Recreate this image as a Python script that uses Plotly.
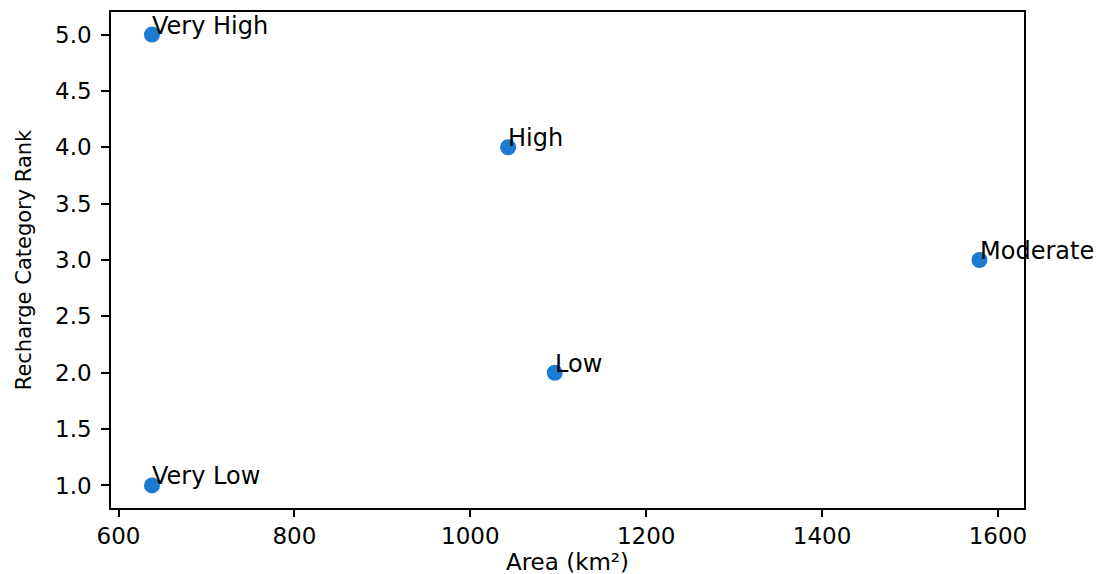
import plotly.graph_objects as go

categories = ["Very Low", "Low", "Moderate", "High", "Very High"]
area_km2 = [638, 1096, 1579, 1043, 638]
rank = [1, 2, 3, 4, 5]

x_ticks = [600, 800, 1000, 1200, 1400, 1600]
y_ticks = [1.0, 1.5, 2.0, 2.5, 3.0, 3.5, 4.0, 4.5, 5.0]

FONT = "DejaVu Sans"
FS = 23

fig = go.Figure()
fig.add_trace(go.Scatter(
    x=area_km2, y=rank, mode="markers",
    marker=dict(color="#1a7bd0", size=16, line=dict(width=0)),
    showlegend=False, hoverinfo="skip",
))

for c, xv, yv in zip(categories, area_km2, rank):
    fig.add_annotation(
        x=xv, y=yv, text=c, showarrow=False,
        xanchor="left", yanchor="bottom", yshift=-7, xshift=-2,
        font=dict(family=FONT, size=24, color="black"),
    )

axis_common = dict(
    showline=True, linecolor="black", linewidth=1.5, mirror=True,
    ticks="outside", tickcolor="black", tickwidth=1.5,
    showgrid=False, zeroline=False, automargin=False,
    tickfont=dict(family=FONT, size=FS, color="black"),
)

fig.update_xaxes(
    range=[591.4, 1629.6], tickvals=x_ticks, ticklen=7,
    title=dict(text="Area (km²)", font=dict(family=FONT, size=23, color="black"), standoff=0),
    **axis_common,
)
fig.update_yaxes(
    range=[0.8, 5.2], tickvals=y_ticks, tickformat=".1f", ticklen=8,
    ticklabelstandoff=5,
    title=dict(text="Recharge Category Rank", font=dict(family=FONT, size=21, color="black"), standoff=18),
    **axis_common,
)

fig.update_layout(
    width=1106, height=574,
    margin=dict(l=103, r=90, t=4, b=74),
    plot_bgcolor="white", paper_bgcolor="white",
)

fig.write_html("out.html")
